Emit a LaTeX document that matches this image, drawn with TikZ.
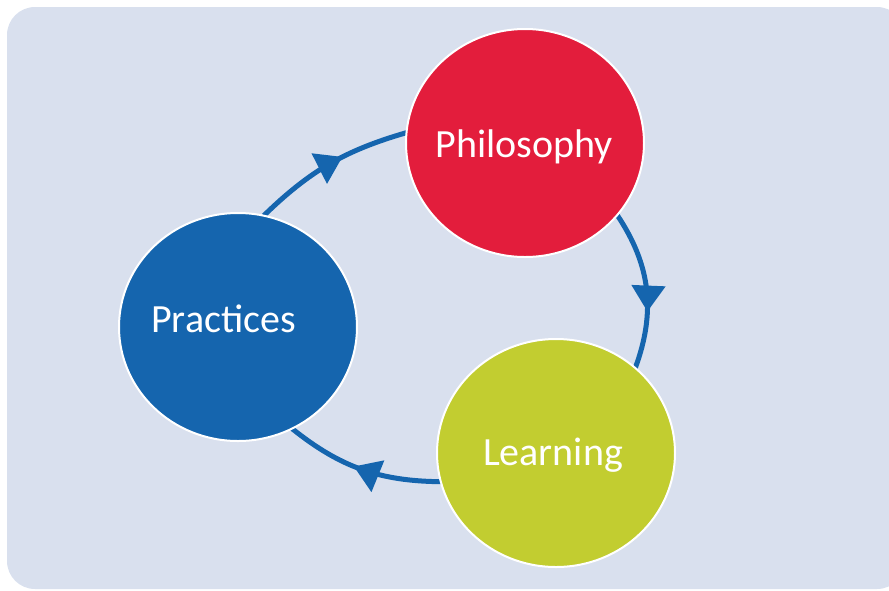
\documentclass[tikz,border=0pt]{standalone}
\usepackage{fontspec}
\setmainfont{Carlito}
\usetikzlibrary{shapes.geometric,arrows.meta,decorations.markings}
\definecolor{bgc}{RGB}{217,224,238}
\definecolor{redc}{RGB}{227,29,60}
\definecolor{bluec}{RGB}{21,101,174}
\definecolor{greenc}{RGB}{194,205,48}
\pgfdeclarelayer{arrowlayer}
\pgfsetlayers{arrowlayer,main}
\begin{document}
\begin{tikzpicture}[x=1pt,y=1pt,
  stage/.style={ellipse, draw=white, line width=2pt, minimum width=238pt, minimum height=228pt, inner sep=0pt, outer sep=0pt},
  cyc/.style={draw=bluec, line width=5pt, postaction={decorate},
    decoration={markings, mark=at position #1 with {\arrow[bluec]{Triangle[length=26pt,width=33pt]}}}},
  lbl/.style={text=white, font=\fontsize{40}{42}\selectfont, anchor=base, inner sep=0pt}]
\useasboundingbox (0,0) rectangle (889,-590);
\clip (0,0) rectangle (889,-590);
\node[stage, fill=redc] (phil) at (525,-143) {};
\node[stage, fill=bluec] (prac) at (238,-327) {};
\node[stage, fill=greenc] (lear) at (556,-453) {};
\node[lbl] (philtxt) at (524.5,-157) {Philosophy};
\node[lbl] (practxt) at (223.5,-332) {Practices};
\node[lbl] (leartxt) at (553,-465) {Learning};
\begin{pgfonlayer}{arrowlayer}
\fill[bgc, rounded corners=28pt] (7,-7) rectangle (905,-589);
\draw[cyc=0.59] (prac.77) to[bend left=14] (phil.175);
\draw[cyc=0.64] (phil.-38) to[bend left=27] (lear.47);
\draw[cyc=0.55] (lear.194) to[bend left=19] (prac.-62);
\end{pgfonlayer}
\end{tikzpicture}
\end{document}
